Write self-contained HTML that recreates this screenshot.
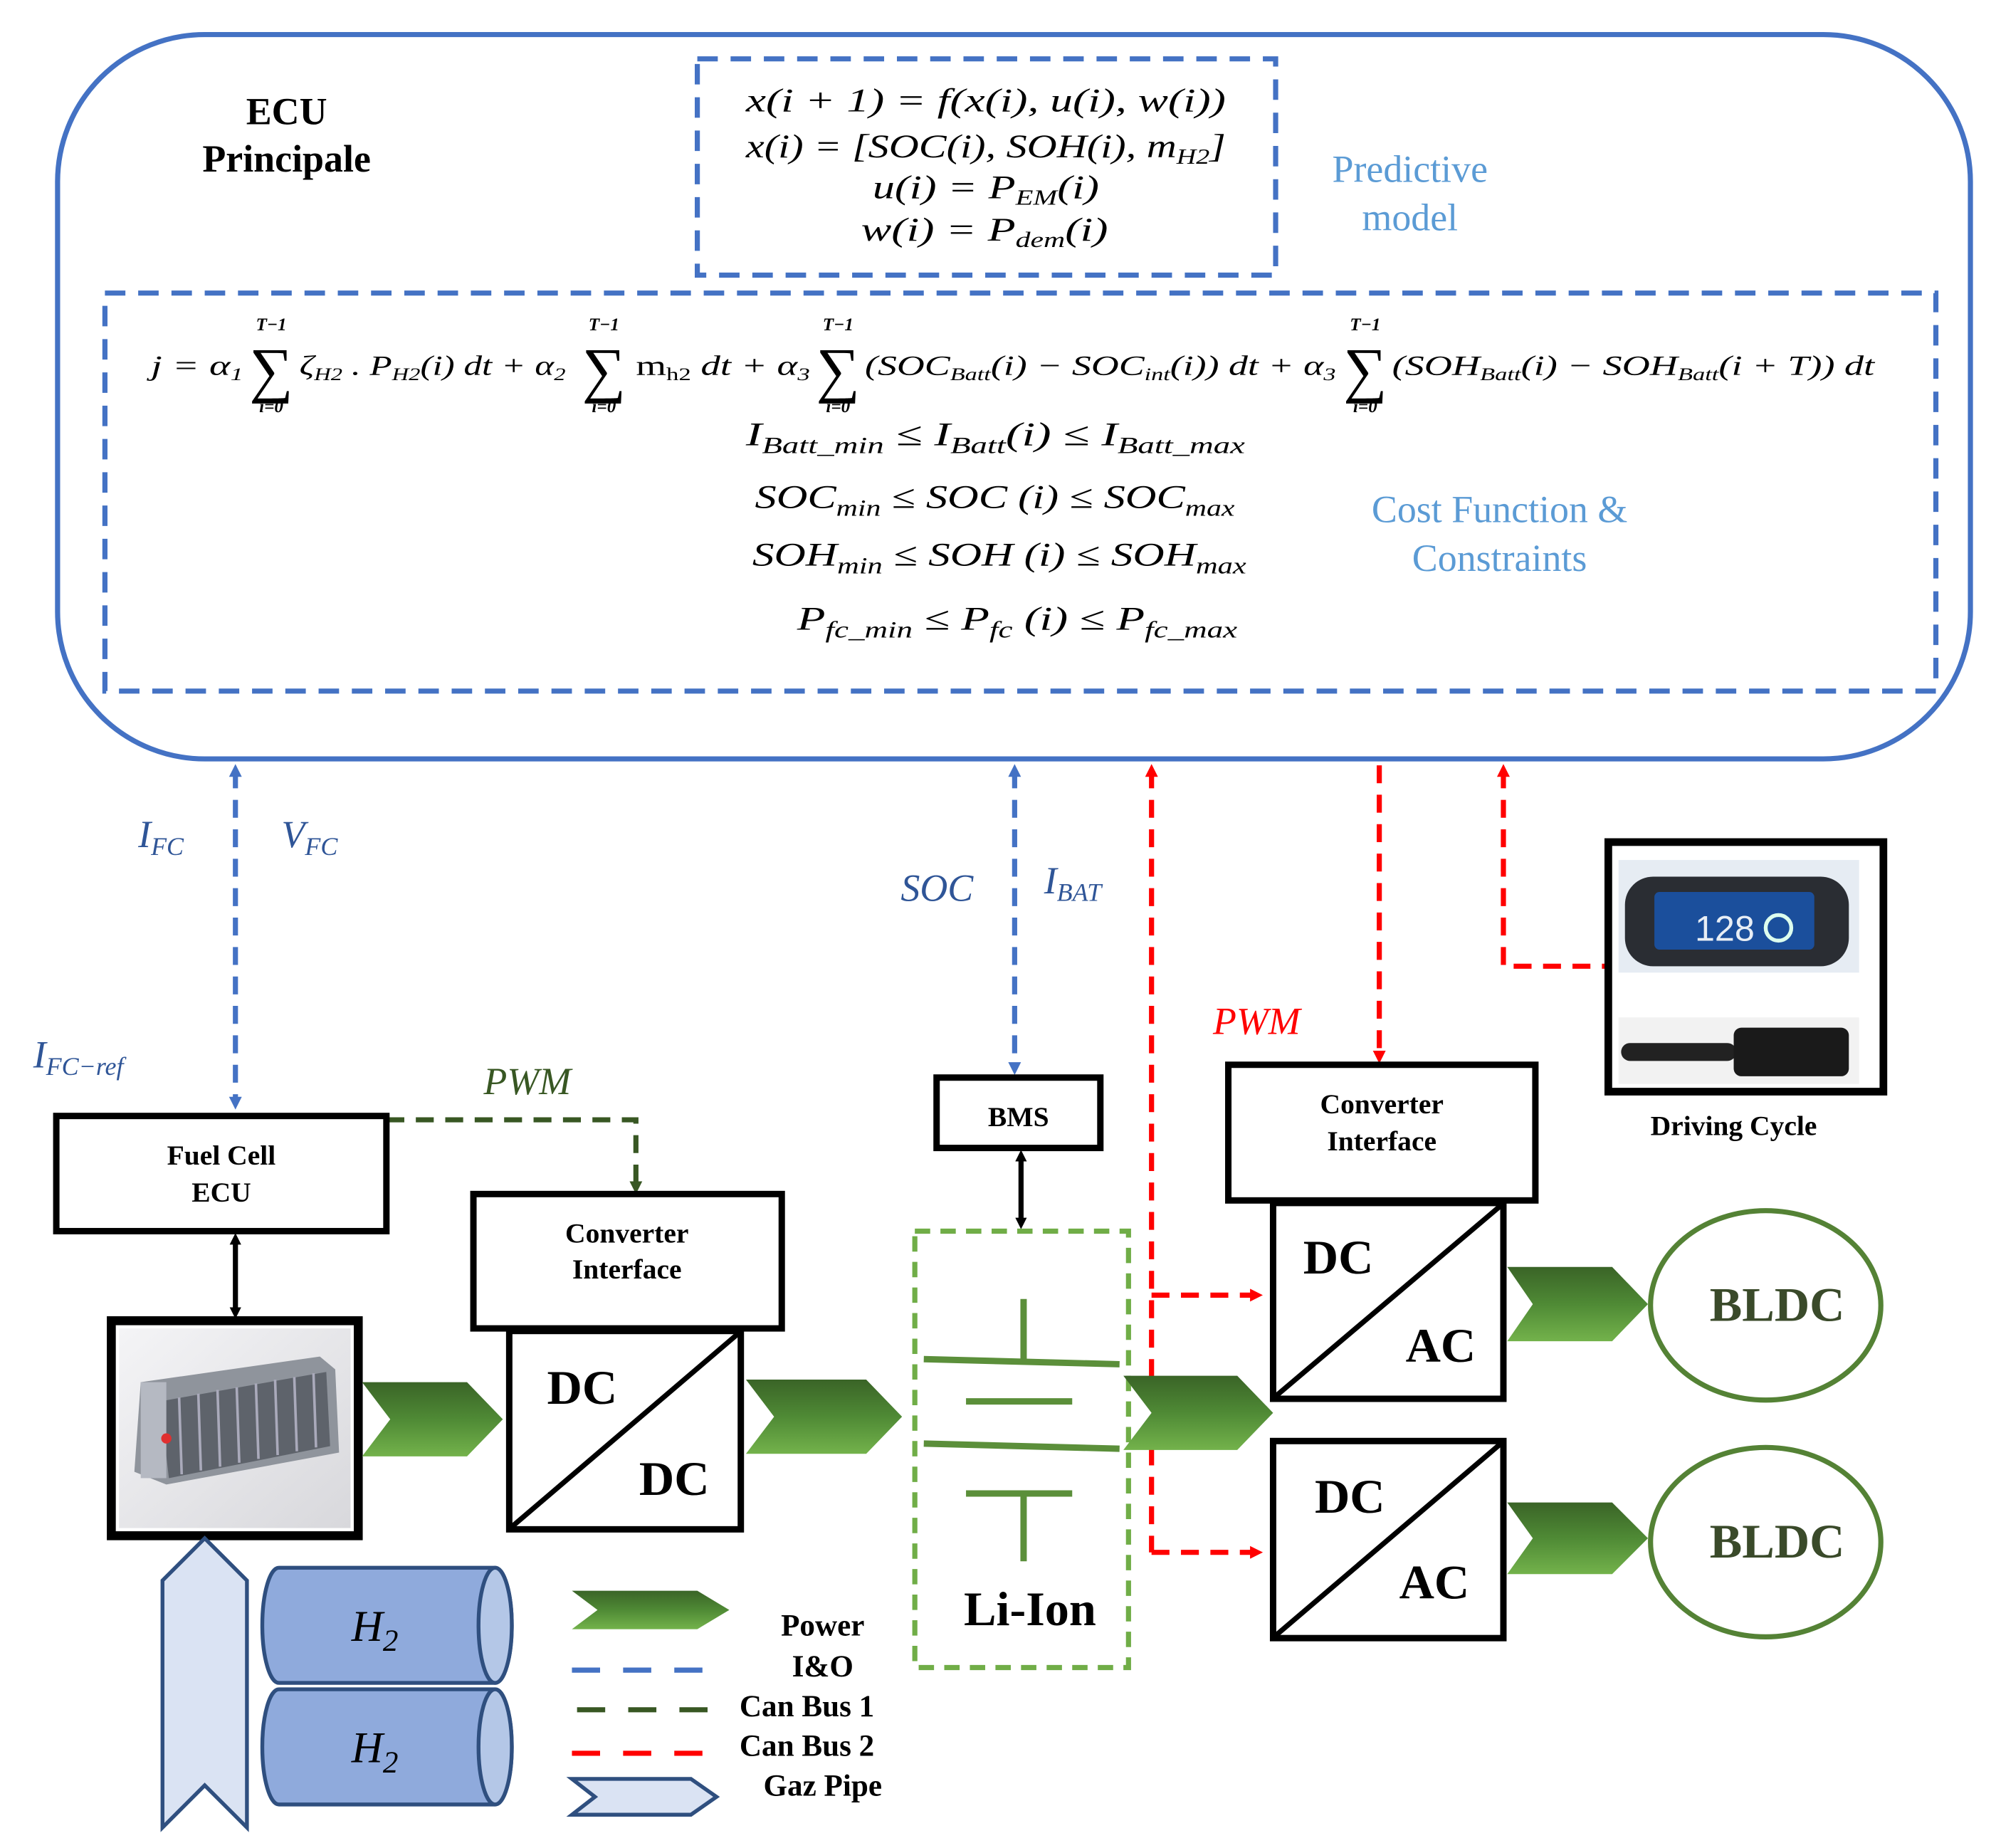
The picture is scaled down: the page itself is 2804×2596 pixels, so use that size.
<!DOCTYPE html>
<html><head><meta charset="utf-8"><style>html,body{margin:0;padding:0;background:#fff}svg{display:block}</style></head>
<body>
<svg width="2804" height="2596" viewBox="0 0 1560 1444" preserveAspectRatio="none" xmlns="http://www.w3.org/2000/svg" font-family="Liberation Serif, serif">
<defs>
<linearGradient id="pg" x1="0" y1="0" x2="0" y2="1"><stop offset="0" stop-color="#3a6427"/><stop offset="0.5" stop-color="#4f8a35"/><stop offset="1" stop-color="#73b24b"/></linearGradient>
<linearGradient id="fc" x1="0" y1="0" x2="1" y2="1"><stop offset="0" stop-color="#f4f4f6"/><stop offset="1" stop-color="#d8d8dc"/></linearGradient>
<marker id="ab" markerWidth="10" markerHeight="10" refX="5" refY="5" orient="auto-start-reverse" markerUnits="userSpaceOnUse" viewBox="0 0 10 10"><path d="M0,0 L10,5 L0,10z" fill="#4472c4"/></marker>
<marker id="ar" markerWidth="10" markerHeight="10" refX="5" refY="5" orient="auto-start-reverse" markerUnits="userSpaceOnUse" viewBox="0 0 10 10"><path d="M0,0 L10,5 L0,10z" fill="#ff0000"/></marker>
<marker id="ag" markerWidth="10" markerHeight="10" refX="5" refY="5" orient="auto" markerUnits="userSpaceOnUse" viewBox="0 0 10 10"><path d="M0,0 L10,5 L0,10z" fill="#385723"/></marker>
<marker id="ak" markerWidth="9" markerHeight="9" refX="5" refY="5" orient="auto-start-reverse" markerUnits="userSpaceOnUse" viewBox="0 0 10 10"><path d="M0,0 L10,5 L0,10z" fill="#000"/></marker>
</defs>

<rect x="45" y="27" width="1495" height="566" rx="115" fill="none" stroke="#4472c4" stroke-width="4"/>
<text x="224" y="97" font-size="30" font-weight="bold" text-anchor="middle">ECU</text>
<text x="224" y="134" font-size="30" font-weight="bold" text-anchor="middle">Principale</text>
<rect x="545" y="46" width="452" height="169" fill="none" stroke="#4472c4" stroke-width="4" stroke-dasharray="16,10"/>
<g font-size="26" font-style="italic" lengthAdjust="spacingAndGlyphs">
<text x="583" y="87" textLength="375" lengthAdjust="spacingAndGlyphs">x(i + 1) = f(x(i), u(i), w(i))</text>
<text x="583" y="123" textLength="375" lengthAdjust="spacingAndGlyphs">x(i) = [SOC(i), SOH(i), m<tspan font-size="17" dy="5">H2</tspan><tspan dy="-5">]</tspan></text>
<text x="682" y="155" textLength="177" lengthAdjust="spacingAndGlyphs">u(i) = P<tspan font-size="17" dy="5">EM</tspan><tspan dy="-5">(i)</tspan></text>
<text x="673" y="188" textLength="193" lengthAdjust="spacingAndGlyphs">w(i) = P<tspan font-size="17" dy="5">dem</tspan><tspan dy="-5">(i)</tspan></text>
</g>
<text x="1102" y="142" font-size="30" fill="#5b9bd5" text-anchor="middle">Predictive</text>
<text x="1102" y="180" font-size="30" fill="#5b9bd5" text-anchor="middle">model</text>

<rect x="82" y="229" width="1431" height="311" fill="none" stroke="#4472c4" stroke-width="4" stroke-dasharray="16,10"/>
<g font-size="22" font-style="italic">
<text x="118" y="293" textLength="72" lengthAdjust="spacingAndGlyphs">j = α<tspan font-size="14" dy="4">1</tspan></text>
<text x="234" y="293" textLength="208" lengthAdjust="spacingAndGlyphs">ζ<tspan font-size="14" dy="4">H2</tspan><tspan dy="-4"> . P</tspan><tspan font-size="14" dy="4">H2</tspan><tspan dy="-4">(i) dt + α</tspan><tspan font-size="14" dy="4">2</tspan></text>
<text x="497" y="293" textLength="136" lengthAdjust="spacingAndGlyphs"><tspan font-style="normal">m</tspan><tspan font-size="14" dy="4" font-style="normal">h2</tspan><tspan dy="-4"> dt + α</tspan><tspan font-size="14" dy="4">3</tspan></text>
<text x="676" y="293" textLength="368" lengthAdjust="spacingAndGlyphs">(SOC<tspan font-size="14" dy="4">Batt</tspan><tspan dy="-4">(i) − SOC</tspan><tspan font-size="14" dy="4">int</tspan><tspan dy="-4">(i)) dt + α</tspan><tspan font-size="14" dy="4">3</tspan></text>
<text x="1088" y="293" textLength="377" lengthAdjust="spacingAndGlyphs">(SOH<tspan font-size="14" dy="4">Batt</tspan><tspan dy="-4">(i) − SOH</tspan><tspan font-size="14" dy="4">Batt</tspan><tspan dy="-4">(i + T)) dt</tspan></text>
</g>
<g text-anchor="middle">
<g font-size="48"><text x="212" y="305">∑</text><text x="472" y="305">∑</text><text x="655" y="305">∑</text><text x="1067" y="305">∑</text></g>
<g font-size="14" font-style="italic" font-weight="bold"><text x="212" y="258">T−1</text><text x="472" y="258">T−1</text><text x="655" y="258">T−1</text><text x="1067" y="258">T−1</text>
<text x="212" y="322">i=0</text><text x="472" y="322">i=0</text><text x="655" y="322">i=0</text><text x="1067" y="322">i=0</text></g>
</g>
<g font-size="26" font-style="italic">
<text x="583" y="348" textLength="390" lengthAdjust="spacingAndGlyphs">I<tspan font-size="18" dy="6">Batt_min</tspan><tspan dy="-6"> ≤ I</tspan><tspan font-size="18" dy="6">Batt</tspan><tspan dy="-6">(i)  ≤ I</tspan><tspan font-size="18" dy="6">Batt_max</tspan></text>
<text x="590" y="397" textLength="375" lengthAdjust="spacingAndGlyphs">SOC<tspan font-size="18" dy="6">min</tspan><tspan dy="-6"> ≤ SOC  (i)  ≤ SOC</tspan><tspan font-size="18" dy="6">max</tspan></text>
<text x="588" y="442" textLength="386" lengthAdjust="spacingAndGlyphs">SOH<tspan font-size="18" dy="6">min</tspan><tspan dy="-6"> ≤ SOH  (i)  ≤ SOH</tspan><tspan font-size="18" dy="6">max</tspan></text>
<text x="623" y="492" textLength="344" lengthAdjust="spacingAndGlyphs">P<tspan font-size="18" dy="6">fc_min</tspan><tspan dy="-6"> ≤ P</tspan><tspan font-size="18" dy="6">fc</tspan><tspan dy="-6"> (i)  ≤ P</tspan><tspan font-size="18" dy="6">fc_max</tspan></text>
</g>
<text x="1172" y="408" font-size="30" fill="#5b9bd5" text-anchor="middle">Cost Function &amp;</text>
<text x="1172" y="446" font-size="30" fill="#5b9bd5" text-anchor="middle">Constraints</text>

<g stroke-width="4" fill="none" stroke-dasharray="14,9">
<line x1="184" y1="602" x2="184" y2="862" stroke="#4472c4" marker-start="url(#ab)" marker-end="url(#ab)"/>
<line x1="793" y1="602" x2="793" y2="835" stroke="#4472c4" marker-start="url(#ab)" marker-end="url(#ab)"/>
<polyline points="900,602 900,1213" stroke="#ff0000" marker-start="url(#ar)"/>
<line x1="900" y1="1012" x2="982" y2="1012" stroke="#ff0000" marker-end="url(#ar)"/>
<line x1="900" y1="1213" x2="982" y2="1213" stroke="#ff0000" marker-end="url(#ar)"/>
<line x1="1078" y1="598" x2="1078" y2="826" stroke="#ff0000" marker-end="url(#ar)"/>
<polyline points="1175,602 1175,755 1257,755" stroke="#ff0000" marker-start="url(#ar)"/>
<polyline points="302,875 497,875 497,928" stroke="#385723" marker-end="url(#ag)"/>
</g>
<line x1="184" y1="968" x2="184" y2="1026" stroke="#000" stroke-width="4" marker-start="url(#ak)" marker-end="url(#ak)"/>
<line x1="798" y1="903" x2="798" y2="956" stroke="#000" stroke-width="4" marker-start="url(#ak)" marker-end="url(#ak)"/>

<g font-size="30" font-style="italic" fill="#2f5597">
<text x="108" y="662">I<tspan font-size="20" dy="6">FC</tspan></text>
<text x="220" y="662">V<tspan font-size="20" dy="6">FC</tspan></text>
<text x="26" y="834">I<tspan font-size="20" dy="6">FC−ref</tspan></text>
<text x="704" y="704">SOC</text>
<text x="816" y="698">I<tspan font-size="20" dy="6">BAT</tspan></text>
</g>
<text x="378" y="855" font-size="30" font-style="italic" fill="#385723">PWM</text>
<text x="948" y="808" font-size="30" font-style="italic" fill="#ff0000">PWM</text>

<g fill="#fff" stroke="#000" stroke-width="5">
<rect x="44" y="872" width="258" height="90"/>
<rect x="370" y="933" width="241" height="105"/>
<rect x="398" y="1040" width="181" height="155"/>
<rect x="732" y="842" width="128" height="55"/>
<rect x="960" y="832" width="240" height="106"/>
<rect x="995" y="940" width="180" height="153"/>
<rect x="995" y="1126" width="180" height="154"/>
</g>
<g stroke="#000" stroke-width="4"><line x1="400" y1="1193" x2="577" y2="1042"/><line x1="997" y1="1091" x2="1173" y2="942"/><line x1="997" y1="1278" x2="1173" y2="1128"/></g>
<g font-weight="bold" text-anchor="middle">
<text x="173" y="910" font-size="22">Fuel Cell</text><text x="173" y="939" font-size="22">ECU</text>
<text x="490" y="971" font-size="22">Converter</text><text x="490" y="999" font-size="22">Interface</text>
<text x="796" y="880" font-size="22">BMS</text>
<text x="1080" y="870" font-size="22">Converter</text><text x="1080" y="899" font-size="22">Interface</text>
<text x="1355" y="887" font-size="22">Driving Cycle</text>
<text x="455" y="1097" font-size="38">DC</text><text x="527" y="1168" font-size="38">DC</text>
<text x="1046" y="995" font-size="38">DC</text><text x="1126" y="1064" font-size="38">AC</text>
<text x="1055" y="1182" font-size="38">DC</text><text x="1121" y="1249" font-size="38">AC</text>
<text x="805" y="1270" font-size="38">Li-Ion</text>
</g>

<rect x="87" y="1032" width="193" height="168" fill="#fff" stroke="#000" stroke-width="7"/>
<rect x="93" y="1038" width="181" height="156" fill="url(#fc)"/>
<polygon points="110,1080 250,1060 262,1070 265,1135 130,1160 105,1150" fill="#8f949c"/>
<polygon points="125,1095 255,1072 258,1130 132,1155" fill="#5e636b"/>
<g stroke="#aab" stroke-width="2"><line x1="140" y1="1092" x2="142" y2="1152"/><line x1="155" y1="1089" x2="157" y2="1149"/><line x1="170" y1="1086" x2="172" y2="1146"/><line x1="185" y1="1084" x2="187" y2="1143"/><line x1="200" y1="1081" x2="202" y2="1140"/><line x1="215" y1="1078" x2="217" y2="1137"/><line x1="230" y1="1076" x2="232" y2="1134"/><line x1="245" y1="1073" x2="247" y2="1131"/></g>
<rect x="110" y="1080" width="20" height="75" fill="#b5b9c2"/>
<circle cx="130" cy="1124" r="4" fill="#e03030"/>

<rect x="715" y="962" width="167" height="341" fill="none" stroke="#70ad47" stroke-width="4" stroke-dasharray="12,8"/>
<g stroke="#5b8f3a" stroke-width="5">
<line x1="800" y1="1015" x2="800" y2="1062"/><line x1="722" y1="1062" x2="875" y2="1066"/>
<line x1="755" y1="1095" x2="838" y2="1095"/><line x1="722" y1="1128" x2="875" y2="1132"/>
<line x1="755" y1="1167" x2="838" y2="1167"/><line x1="800" y1="1167" x2="800" y2="1220"/>
</g>

<g fill="url(#pg)">
<polygon points="283,1080 365,1080 393,1109 365,1138 283,1138 305,1109"/>
<polygon points="583,1078 677,1078 705,1107 677,1136 583,1136 605,1107"/>
<polygon points="878,1075 967,1075 995,1104 967,1133 878,1133 900,1104"/>
<polygon points="1178,990 1260,990 1288,1019 1260,1048 1178,1048 1198,1019"/>
<polygon points="1178,1174 1260,1174 1288,1202 1260,1230 1178,1230 1198,1202"/>
<polygon points="447,1243 545,1243 570,1258 545,1273 447,1273 467,1258"/>
</g>

<g fill="#fff" stroke="#548235" stroke-width="4"><ellipse cx="1380" cy="1020" rx="90" ry="74"/><ellipse cx="1380" cy="1205" rx="90" ry="74"/></g>
<g font-size="38" font-weight="bold" fill="#3a4a2a" text-anchor="middle"><text x="1389" y="1032">BLDC</text><text x="1389" y="1217">BLDC</text></g>

<rect x="1257" y="658" width="215" height="195" fill="#fff" stroke="#000" stroke-width="6"/>
<rect x="1265" y="672" width="188" height="88" fill="#e6ecf3"/>
<rect x="1270" y="685" width="175" height="70" rx="22" fill="#2a2d33"/>
<rect x="1293" y="697" width="125" height="45" rx="4" fill="#1b4f9c"/>
<text x="1348" y="735" font-family="Liberation Sans, sans-serif" font-size="28" fill="#e8eef5" text-anchor="middle">128</text>
<circle cx="1390" cy="725" r="10" fill="none" stroke="#dfe" stroke-width="3"/>
<rect x="1265" y="795" width="188" height="52" fill="#f2f2f2"/>
<rect x="1267" y="815" width="90" height="14" rx="7" fill="#222"/>
<rect x="1355" y="803" width="90" height="38" rx="6" fill="#1a1a1a"/>

<g stroke="#2f4f7f" stroke-width="3">
<path d="M218,1225 H387 A13,45 0 0 1 387,1315 H218 A13,45 0 0 1 218,1225z" fill="#8faadc"/>
<ellipse cx="387" cy="1270" rx="13" ry="45" fill="#b4c7e7"/>
<path d="M218,1320 H387 A13,45 0 0 1 387,1410 H218 A13,45 0 0 1 218,1320z" fill="#8faadc"/>
<ellipse cx="387" cy="1365" rx="13" ry="45" fill="#b4c7e7"/>
<polygon points="127,1428 127,1235 160,1202 193,1235 193,1428 160,1395" fill="#dae3f3"/>
<polygon points="447,1390 540,1390 560,1404 540,1418 447,1418 465,1404" fill="#dae3f3"/>
</g>
<g font-size="34" font-style="italic" text-anchor="middle"><text x="293" y="1282">H<tspan font-size="24" dy="8">2</tspan></text><text x="293" y="1377">H<tspan font-size="24" dy="8">2</tspan></text></g>

<g stroke-width="4" stroke-dasharray="22,18"><line x1="447" y1="1305" x2="567" y2="1305" stroke="#4472c4"/><line x1="451" y1="1336" x2="571" y2="1336" stroke="#385723"/><line x1="447" y1="1370" x2="567" y2="1370" stroke="#ff0000"/></g>
<g font-size="24" font-weight="bold">
<text x="643" y="1278" text-anchor="middle">Power</text>
<text x="643" y="1310" text-anchor="middle">I&amp;O</text>
<text x="578" y="1341">Can Bus 1</text>
<text x="578" y="1372">Can Bus 2</text>
<text x="643" y="1403" text-anchor="middle">Gaz Pipe</text>
</g>
</svg>
</body></html>
